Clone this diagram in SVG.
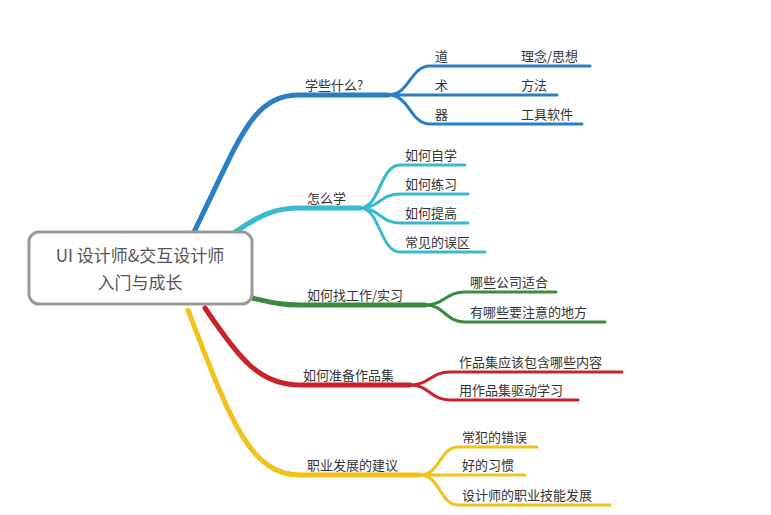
<svg xmlns="http://www.w3.org/2000/svg" width="771" height="515" viewBox="0 0 771 515">
<style>
text{font-family:"Noto Sans CJK SC","Liberation Sans",sans-serif;font-size:13px;fill:#333}
.m{fill:none;stroke-width:5;stroke-linecap:round}
.s{fill:none;stroke-width:3;stroke-linecap:round}
.b{stroke:#2a7fc4}.c{stroke:#38b9cf}.g{stroke:#3a8c3c}.r{stroke:#c8232b}.y{stroke:#f1c21b}
</style>
<rect width="771" height="515" fill="#fff"/>
<g id="connectors">
<path class="m b" d="M190 240 C240 140 250 95 300 95 L388 95"/>
<path class="s b" d="M388 95 C410 95 410 66 430 66 L590 66 M388 95 L557 95 M388 95 C410 95 410 124 430 124 L582 124"/>
<path class="m c" d="M235 232 C260 215 275 208 300 208 L360 208"/>
<path class="s c" d="M360 208 C380 208 380 165 400 165 L465 165 M360 208 C380 208 380 194 400 194 L468 194 M360 208 C380 208 380 223 400 223 L468 223 M360 208 C380 208 380 252 400 252 L485 252"/>
<path class="m g" d="M252 298 C270 302 280 305 300 305 L425 305"/>
<path class="s g" d="M425 305 C445 305 445 292 465 292 L556 292 M425 305 C445 305 445 322 465 322 L605 322"/>
<path class="m r" d="M205 308 C240 360 260 385 300 385 L410 385"/>
<path class="s r" d="M410 385 C430 385 430 372 450 372 L622 372 M410 385 C430 385 430 400 450 400 L578 400"/>
<path class="m y" d="M188 310 C230 420 250 475 300 475 L420 475"/>
<path class="s y" d="M420 475 C440 475 440 447 458 447 L537 447 M420 475 L525 475 M420 475 C440 475 440 505 458 505 L610 505"/>
</g>
<g id="root">
<rect x="29" y="232" width="223" height="72" rx="10" fill="#fff" stroke="#9a9a9a" stroke-width="3"/>
<text x="140" y="262" text-anchor="middle" style="font-size:17px;fill:#555">UI 设计师&amp;交互设计师</text>
<text x="140" y="289" text-anchor="middle" style="font-size:17px;fill:#555">入门与成长</text>
</g>
<g id="learn-what"><text x="305" y="90">学些什么?</text>
<text x="435" y="61">道</text><text x="521" y="61">理念/思想</text>
<text x="435" y="90">术</text><text x="521" y="90">方法</text>
<text x="435" y="119">器</text><text x="521" y="119">工具软件</text></g>
<g id="how-learn"><text x="307" y="203">怎么学</text>
<text x="405" y="160">如何自学</text><text x="405" y="189">如何练习</text>
<text x="405" y="218">如何提高</text><text x="405" y="247">常见的误区</text></g>
<g id="job"><text x="307" y="300">如何找工作/实习</text>
<text x="470" y="287">哪些公司适合</text><text x="470" y="317">有哪些要注意的地方</text></g>
<g id="portfolio"><text x="303" y="380">如何准备作品集</text>
<text x="459" y="367">作品集应该包含哪些内容</text><text x="459" y="395">用作品集驱动学习</text></g>
<g id="career"><text x="307" y="470">职业发展的建议</text>
<text x="462" y="442">常犯的错误</text><text x="462" y="470">好的习惯</text><text x="462" y="500">设计师的职业技能发展</text></g>
</svg>
